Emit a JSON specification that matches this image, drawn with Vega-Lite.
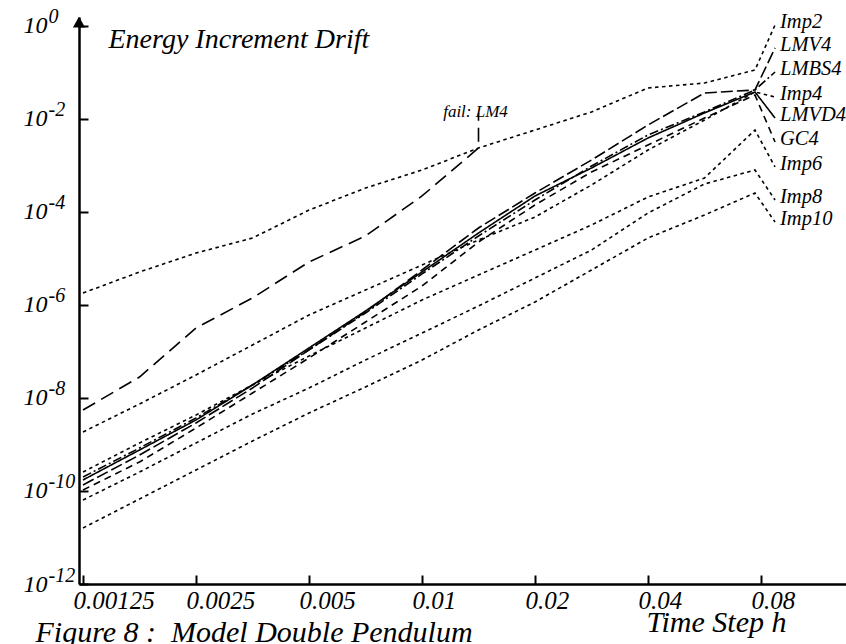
{
 "$schema": "https://vega.github.io/schema/vega-lite/v6.json",
 "width": 767, "height": 567,
 "autosize": "none",
 "padding": {"left": 79, "top": 17, "right": 0, "bottom": 60},
 "background": "white",
 "data": {"values": [
  {"m":"Imp2","i":0,"h":0.00125,"E":1.81e-6},{"m":"Imp2","i":1,"h":0.0017678,"E":5.13e-6},{"m":"Imp2","i":2,"h":0.0025,"E":1.31e-5},{"m":"Imp2","i":3,"h":0.0035355,"E":2.76e-5},{"m":"Imp2","i":4,"h":0.005,"E":1.10e-4},{"m":"Imp2","i":5,"h":0.0070711,"E":3.28e-4},{"m":"Imp2","i":6,"h":0.01,"E":8.0e-4},{"m":"Imp2","i":7,"h":0.0141421,"E":2.38e-3},{"m":"Imp2","i":8,"h":0.02,"E":5.79e-3},{"m":"Imp2","i":9,"h":0.0282843,"E":1.42e-2},{"m":"Imp2","i":10,"h":0.04,"E":4.65e-2},{"m":"Imp2","i":11,"h":0.0565685,"E":5.94e-2},{"m":"Imp2","i":12,"h":0.0771,"E":0.113},{"m":"Imp2","i":13,"h":0.0872,"E":1.05},
  {"m":"LMV4","i":0,"h":0.00125,"E":1.35e-10},{"m":"LMV4","i":1,"h":0.0017678,"E":5.94e-10},{"m":"LMV4","i":2,"h":0.0025,"E":2.90e-9},{"m":"LMV4","i":3,"h":0.0035355,"E":1.64e-8},{"m":"LMV4","i":4,"h":0.005,"E":1.08e-7},{"m":"LMV4","i":5,"h":0.0070711,"E":7.06e-7},{"m":"LMV4","i":6,"h":0.01,"E":5.66e-6},{"m":"LMV4","i":7,"h":0.0141421,"E":4.53e-5},{"m":"LMV4","i":8,"h":0.02,"E":2.56e-4},{"m":"LMV4","i":9,"h":0.0282843,"E":1.31e-3},{"m":"LMV4","i":10,"h":0.04,"E":7.43e-3},{"m":"LMV4","i":11,"h":0.0565685,"E":3.62e-2},{"m":"LMV4","i":12,"h":0.0771,"E":4.21e-2},{"m":"LMV4","i":13,"h":0.0872,"E":0.337},
  {"m":"LMBS4","i":0,"h":0.00125,"E":2.0e-10},{"m":"LMBS4","i":1,"h":0.0017678,"E":8.41e-10},{"m":"LMBS4","i":2,"h":0.0025,"E":3.72e-9},{"m":"LMBS4","i":3,"h":0.0035355,"E":1.91e-8},{"m":"LMBS4","i":4,"h":0.005,"E":1.08e-7},{"m":"LMBS4","i":5,"h":0.0070711,"E":6.73e-7},{"m":"LMBS4","i":6,"h":0.01,"E":4.65e-6},{"m":"LMBS4","i":7,"h":0.0141421,"E":3.05e-5},{"m":"LMBS4","i":8,"h":0.02,"E":1.81e-4},{"m":"LMBS4","i":9,"h":0.0282843,"E":9.75e-4},{"m":"LMBS4","i":10,"h":0.04,"E":4.53e-3},{"m":"LMBS4","i":11,"h":0.0565685,"E":1.42e-2},{"m":"LMBS4","i":12,"h":0.0771,"E":4.21e-2},{"m":"LMBS4","i":13,"h":0.0872,"E":0.1025},
  {"m":"Imp4","i":0,"h":0.00125,"E":1.86e-9},{"m":"Imp4","i":1,"h":0.0017678,"E":7.43e-9},{"m":"Imp4","i":2,"h":0.0025,"E":3.13e-8},{"m":"Imp4","i":3,"h":0.0035355,"E":1.38e-7},{"m":"Imp4","i":4,"h":0.005,"E":6.10e-7},{"m":"Imp4","i":5,"h":0.0070711,"E":2.10e-6},{"m":"Imp4","i":6,"h":0.01,"E":7.24e-6},{"m":"Imp4","i":7,"h":0.0141421,"E":2.50e-5},{"m":"Imp4","i":8,"h":0.02,"E":7.80e-5},{"m":"Imp4","i":9,"h":0.0282843,"E":3.81e-4},{"m":"Imp4","i":10,"h":0.04,"E":2.15e-3},{"m":"Imp4","i":11,"h":0.0565685,"E":9.51e-3},{"m":"Imp4","i":12,"h":0.0771,"E":3.81e-2},{"m":"Imp4","i":13,"h":0.0872,"E":2.97e-2},
  {"m":"LMVD4","i":0,"h":0.00125,"E":1.73e-10},{"m":"LMVD4","i":1,"h":0.0017678,"E":7.62e-10},{"m":"LMVD4","i":2,"h":0.0025,"E":3.37e-9},{"m":"LMVD4","i":3,"h":0.0035355,"E":1.91e-8},{"m":"LMVD4","i":4,"h":0.005,"E":1.19e-7},{"m":"LMVD4","i":5,"h":0.0070711,"E":7.43e-7},{"m":"LMVD4","i":6,"h":0.01,"E":5.13e-6},{"m":"LMVD4","i":7,"h":0.0141421,"E":3.53e-5},{"m":"LMVD4","i":8,"h":0.02,"E":2.21e-4},{"m":"LMVD4","i":9,"h":0.0282843,"E":8.83e-4},{"m":"LMVD4","i":10,"h":0.04,"E":3.90e-3},{"m":"LMVD4","i":11,"h":0.0565685,"E":1.35e-2},{"m":"LMVD4","i":12,"h":0.0771,"E":3.81e-2},{"m":"LMVD4","i":13,"h":0.0872,"E":1.05e-2},
  {"m":"GC4","i":0,"h":0.00125,"E":1.05e-10},{"m":"GC4","i":1,"h":0.0017678,"E":4.21e-10},{"m":"GC4","i":2,"h":0.0025,"E":2.26e-9},{"m":"GC4","i":3,"h":0.0035355,"E":1.28e-8},{"m":"GC4","i":4,"h":0.005,"E":7.24e-8},{"m":"GC4","i":5,"h":0.0070711,"E":4.31e-7},{"m":"GC4","i":6,"h":0.01,"E":2.56e-6},{"m":"GC4","i":7,"h":0.0141421,"E":2.26e-5},{"m":"GC4","i":8,"h":0.02,"E":1.42e-4},{"m":"GC4","i":9,"h":0.0282843,"E":7.24e-4},{"m":"GC4","i":10,"h":0.04,"E":2.76e-3},{"m":"GC4","i":11,"h":0.0565685,"E":1.05e-2},{"m":"GC4","i":12,"h":0.0771,"E":3.28e-2},{"m":"GC4","i":13,"h":0.0872,"E":3.20e-3},
  {"m":"Imp6","i":0,"h":0.00125,"E":2.56e-10},{"m":"Imp6","i":1,"h":0.0017678,"E":1.08e-9},{"m":"Imp6","i":2,"h":0.0025,"E":4.31e-9},{"m":"Imp6","i":3,"h":0.0035355,"E":1.91e-8},{"m":"Imp6","i":4,"h":0.005,"E":8.00e-8},{"m":"Imp6","i":5,"h":0.0070711,"E":3.20e-7},{"m":"Imp6","i":6,"h":0.01,"E":1.28e-6},{"m":"Imp6","i":7,"h":0.0141421,"E":4.42e-6},{"m":"Imp6","i":8,"h":0.02,"E":1.52e-5},{"m":"Imp6","i":9,"h":0.0282843,"E":5.25e-5},{"m":"Imp6","i":10,"h":0.04,"E":2.10e-4},{"m":"Imp6","i":11,"h":0.0565685,"E":5.38e-4},{"m":"Imp6","i":12,"h":0.0771,"E":5.79e-3},{"m":"Imp6","i":13,"h":0.0872,"E":9.29e-4},
  {"m":"Imp8","i":0,"h":0.00125,"E":6.40e-11},{"m":"Imp8","i":1,"h":0.0017678,"E":2.56e-10},{"m":"Imp8","i":2,"h":0.0025,"E":1.08e-9},{"m":"Imp8","i":3,"h":0.0035355,"E":4.53e-9},{"m":"Imp8","i":4,"h":0.005,"E":1.64e-8},{"m":"Imp8","i":5,"h":0.0070711,"E":6.56e-8},{"m":"Imp8","i":6,"h":0.01,"E":2.50e-7},{"m":"Imp8","i":7,"h":0.0141421,"E":9.51e-7},{"m":"Imp8","i":8,"h":0.02,"E":3.81e-6},{"m":"Imp8","i":9,"h":0.0282843,"E":1.52e-5},{"m":"Imp8","i":10,"h":0.04,"E":9.51e-5},{"m":"Imp8","i":11,"h":0.0565685,"E":4.00e-4},{"m":"Imp8","i":12,"h":0.0771,"E":8.0e-4},{"m":"Imp8","i":13,"h":0.0872,"E":1.81e-4},
  {"m":"Imp10","i":0,"h":0.00125,"E":1.60e-11},{"m":"Imp10","i":1,"h":0.0017678,"E":6.73e-11},{"m":"Imp10","i":2,"h":0.0025,"E":2.83e-10},{"m":"Imp10","i":3,"h":0.0035355,"E":1.19e-9},{"m":"Imp10","i":4,"h":0.005,"E":4.75e-9},{"m":"Imp10","i":5,"h":0.0070711,"E":1.73e-8},{"m":"Imp10","i":6,"h":0.01,"E":6.56e-8},{"m":"Imp10","i":7,"h":0.0141421,"E":2.90e-7},{"m":"Imp10","i":8,"h":0.02,"E":1.16e-6},{"m":"Imp10","i":9,"h":0.0282843,"E":5.66e-6},{"m":"Imp10","i":10,"h":0.04,"E":2.76e-5},{"m":"Imp10","i":11,"h":0.0565685,"E":8.61e-5},{"m":"Imp10","i":12,"h":0.0771,"E":2.56e-4},{"m":"Imp10","i":13,"h":0.0872,"E":6.10e-5},
  {"m":"LM4","i":0,"h":0.00125,"E":5.52e-9},{"m":"LM4","i":1,"h":0.0017678,"E":2.83e-8},{"m":"LM4","i":2,"h":0.0025,"E":3.20e-7},{"m":"LM4","i":3,"h":0.0035355,"E":1.42e-6},{"m":"LM4","i":4,"h":0.005,"E":8.41e-6},{"m":"LM4","i":5,"h":0.0070711,"E":3.05e-5},{"m":"LM4","i":6,"h":0.01,"E":2.21e-4},{"m":"LM4","i":7,"h":0.0141421,"E":2.38e-3},{"m":"LM4","i":8,"h":0.0141421,"E":1.35e-2}
 ]},
 "layer": [
  {
   "mark": {"type": "line", "color": "black", "strokeWidth": 1.6, "strokeCap": "butt"},
   "encoding": {
    "x": {"field": "h", "type": "quantitative",
     "scale": {"type": "log", "domain": [0.0012196, 0.13476], "nice": false},
     "axis": {"values": [0.00125, 0.0025, 0.005, 0.01, 0.02, 0.04, 0.08], "labelExpr": "format(datum.value, '.5~f')",
      "title": "Time Step h", "titleX": 637, "titleY": 47, "titleAlign": "center", "titleBaseline": "alphabetic", "titleFontSize": 30,
      "labelFontSize": 25, "labelPadding": 13, "labelBaseline": "top", "labelAlign": "left", "labelOffset": -10, "tickSize": -9, "tickWidth": 2, "domainWidth": 2.5, "labelFlush": false, "labelOverlap": false}},
    "y": {"field": "E", "type": "quantitative",
     "scale": {"type": "log", "domain": [1e-12, 1.561], "nice": false},
     "axis": {"values": [1e-12, 1e-10, 1e-8, 1e-6, 1e-4, 1e-2, 1], "labelExpr": "'10'",
      "title": "Energy Increment Drift", "titleAngle": 0, "titleX": 29, "titleY": 30, "titleAlign": "left", "titleBaseline": "alphabetic", "titleFontSize": 28,
      "labelFontSize": 24, "labelPadding": 41, "tickSize": -9, "tickWidth": 2, "domainWidth": 2.5, "labelFlush": false, "labelOverlap": false}},
    "strokeDash": {"field": "m", "type": "nominal", "legend": null,
     "scale": {"domain": ["Imp2", "Imp4", "Imp6", "Imp8", "Imp10", "LM4", "LMV4", "LMBS4", "LMVD4", "GC4"],
      "range": [[3.5, 3.5], [3.5, 3.5], [3.5, 3.5], [3.5, 3.5], [3.5, 3.5], [14, 7], [12, 4], [9, 3, 2, 3], [1, 0], [7, 5]]}},
    "order": {"field": "i", "type": "quantitative"}
   }
  },
  {
   "transform": [{"filter": "datum.i == 13"}],
   "mark": {"type": "text", "font": "Liberation Serif", "fontStyle": "italic", "fontSize": 20.5, "align": "left", "baseline": "alphabetic", "dx": 5, "dy": 3, "color": "black"},
   "encoding": {
    "x": {"field": "h", "type": "quantitative", "axis": null},
    "y": {"field": "E", "type": "quantitative", "axis": null},
    "text": {"field": "m"}
   }
  },
  {
   "transform": [{"filter": "datum.m == 'LM4' && datum.i == 8"}],
   "mark": {"type": "text", "font": "Liberation Serif", "fontStyle": "italic", "fontSize": 17, "align": "center", "baseline": "alphabetic", "dx": -3, "dy": 4, "color": "black"},
   "encoding": {
    "x": {"field": "h", "type": "quantitative", "axis": null},
    "y": {"field": "E", "type": "quantitative", "axis": null},
    "text": {"value": "fail: LM4"}
   }
  },
  {
   "data": {"values": [{}]},
   "mark": {"type": "point", "shape": "triangle-up", "filled": true, "size": 150, "color": "black", "opacity": 1},
   "encoding": {
    "x": {"datum": 0.0012196, "type": "quantitative",
     "axis": {"orient": "bottom", "domain": false, "ticks": false, "labels": false, "title": "Figure 8 :\u00a0 Model Double Pendulum",
      "titleX": -44, "titleY": 57, "titleAlign": "left", "titleBaseline": "alphabetic", "titleFontSize": 30}},
    "y": {"datum": 1.21, "type": "quantitative",
     "axis": {"orient": "left", "values": [1e-12, 1e-10, 1e-8, 1e-6, 1e-4, 1e-2, 1], "labelExpr": "'' + round(log(datum.value) / LN10)",
      "domain": false, "ticks": false, "labelAlign": "left", "labelPadding": 31, "labelOffset": -9, "labelFontSize": 20, "title": null, "labelFlush": false, "labelOverlap": false}}
   }
  }
 ],
 "resolve": {"axis": {"x": "independent", "y": "independent"}},
 "config": {
  "view": {"stroke": null},
  "axis": {"grid": false, "labelFont": "Liberation Serif", "titleFont": "Liberation Serif", "labelFontStyle": "italic", "titleFontStyle": "italic", "titleFontWeight": "normal",
   "labelColor": "black", "titleColor": "black", "domainColor": "black", "tickColor": "black"}
 }
}
